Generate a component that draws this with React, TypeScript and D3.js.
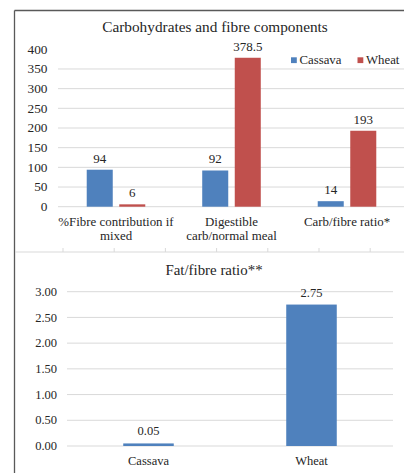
import React from "react";
import * as d3 from "d3";

const topCategories = ["%Fibre contribution if|mixed", "Digestible|carb/normal meal", "Carb/fibre ratio*"];
const seriesNames = ["Cassava", "Wheat"];
const cassavaValues = [94, 92, 14];
const wheatValues = [6, 378.5, 193];
const topTicks = [0, 50, 100, 150, 200, 250, 300, 350, 400];
const topTitle = "Carbohydrates and fibre components";

const bottomCategories = ["Cassava", "Wheat"];
const fatFibreValues = [0.05, 2.75];
const bottomTicks = [0, 0.5, 1, 1.5, 2, 2.5, 3];
const bottomTitle = "Fat/fibre ratio**";

const BLUE = "#4F81BD";
const RED = "#C0504D";
const GRID = "#D9D9D9";
const TEXT = "#262626";
const FONT = "Liberation Serif";

export default function App() {
  const W = 404, H = 473;
  const yTop = d3.scaleLinear().domain([0, 400]).range([206.7, 49.3]);
  const x0 = d3.scaleBand().domain(topCategories).range([58.25, 404.75]).paddingInner(0.493).paddingOuter(0.2465);
  const x1 = d3.scaleBand().domain(seriesNames).range([0, x0.bandwidth()]).paddingInner(0.2);
  const colors = d3.scaleOrdinal<string, string>().domain(seriesNames).range([BLUE, RED]);
  const seriesData = [cassavaValues, wheatValues];

  const sepScale = d3.scaleLinear().domain([0, 1]).range([63, 114.2]);
  const sepTicks = d3.range(7);

  const yBot = d3.scaleLinear().domain([0, 3]).range([446, 291.7]);
  const xb = d3.scaleBand().domain(bottomCategories).range([67, 393]).paddingInner(0.69).paddingOuter(0.345);

  const ts = (size: number): React.CSSProperties => ({ fontFamily: FONT, fontSize: size });

  return (
    <svg width={W} height={H} style={{ position: "absolute", left: 0, top: 0, background: "#fff" }}>
      <rect x={0} y={0} width={W} height={H} fill="#fff" />
      <line x1={14.5} x2={W} y1={10.5} y2={10.5} stroke="#595959" strokeWidth={1.3} />
      <line x1={14.5} x2={14.5} y1={10.5} y2={H} stroke="#595959" strokeWidth={1.3} />

      <text x={215} y={31.5} textAnchor="middle" style={ts(15.3)} fill={TEXT}>{topTitle}</text>

      {topTicks.filter(t => t !== 400).map(t => (
        <line key={"g" + t} x1={58} x2={W} y1={yTop(t)} y2={yTop(t)} stroke={GRID} strokeWidth={1} />
      ))}
      {topTicks.map(t => (
        <text key={"t" + t} x={47.5} y={yTop(t)} dy="0.33em" textAnchor="end" style={ts(13.3)} fill={TEXT}>{t}</text>
      ))}

      {topCategories.map((c, i) => (
        <g key={c} transform={`translate(${x0(c)},0)`}>
          {seriesNames.map((s, j) => {
            const v = seriesData[j][i];
            const x = x1(s)!;
            return (
              <g key={s}>
                <rect x={x} y={yTop(v)} width={x1.bandwidth()} height={yTop(0) - yTop(v)} fill={colors(s)} />
                <text x={x + x1.bandwidth() / 2} y={yTop(v) - 7} textAnchor="middle" style={ts(13)} fill={TEXT}>{v}</text>
              </g>
            );
          })}
          {c.split("|").map((line, k) => (
            <text key={k} x={x0.bandwidth() / 2} y={226 + k * 13.5} textAnchor="middle" style={ts(12.9)} fill={TEXT}>{line}</text>
          ))}
        </g>
      ))}

      {seriesNames.map((s, j) => {
        const lx = j === 0 ? 291 : 357.5;
        return (
          <g key={s}>
            <rect x={lx} y={57.3} width={5.8} height={5.8} fill={colors(s)} />
            <text x={lx + 8.5} y={64} style={ts(12.8)} fill={TEXT}>{s}</text>
          </g>
        );
      })}

      <line x1={15} x2={W} y1={252} y2={252} stroke={GRID} strokeWidth={1} />
      {sepTicks.map(i => (
        <line key={"s" + i} x1={sepScale(i)} x2={sepScale(i)} y1={248} y2={252} stroke={GRID} strokeWidth={1} />
      ))}

      <text x={214} y={275} textAnchor="middle" style={ts(14.9)} fill={TEXT}>{bottomTitle}</text>

      {bottomTicks.map(t => (
        <line key={"bg" + t} x1={67} x2={393} y1={yBot(t)} y2={yBot(t)} stroke={GRID} strokeWidth={1} />
      ))}
      {bottomTicks.map(t => (
        <text key={"bt" + t} x={57} y={yBot(t)} dy="0.33em" textAnchor="end" style={ts(12.5)} fill={TEXT}>{t.toFixed(2)}</text>
      ))}
      {bottomCategories.map((c, i) => {
        const v = fatFibreValues[i];
        const x = xb(c)!;
        return (
          <g key={c}>
            <rect x={x} y={yBot(v)} width={xb.bandwidth()} height={yBot(0) - yBot(v)} fill={BLUE} />
            <text x={x + xb.bandwidth() / 2} y={yBot(v) - 8} textAnchor="middle" style={ts(12.5)} fill={TEXT}>{v.toFixed(2)}</text>
            <text x={x + xb.bandwidth() / 2} y={465} textAnchor="middle" style={ts(12.5)} fill={TEXT}>{c}</text>
          </g>
        );
      })}
    </svg>
  );
}
